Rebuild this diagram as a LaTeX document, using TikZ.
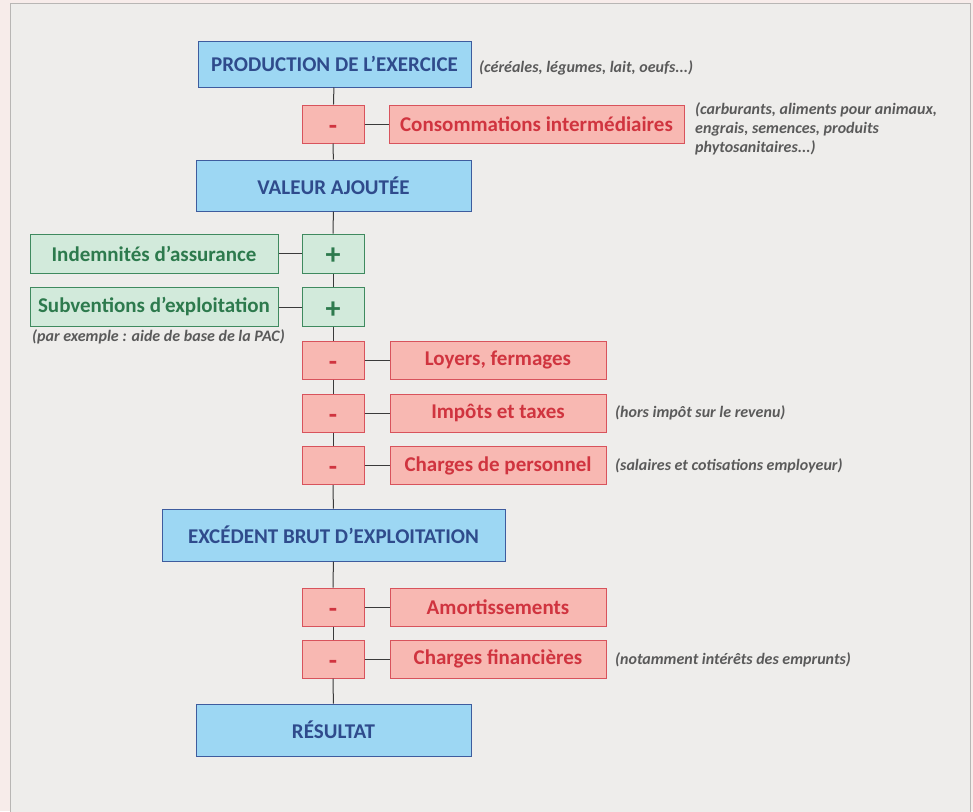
\documentclass[tikz,border=0pt]{standalone}
\usepackage{fontspec}
\setmainfont{Carlito}
\definecolor{fondPage}{HTML}{F7ECEA}
\definecolor{fondCadre}{HTML}{EEEDEB}
\definecolor{traitCadre}{HTML}{B8B6B4}
\definecolor{bleuFond}{HTML}{9DD7F3}
\definecolor{bleuTrait}{HTML}{3E5C9E}
\definecolor{bleuTexte}{HTML}{2F4B8C}
\definecolor{rougeFond}{HTML}{F8B8B2}
\definecolor{rougeTrait}{HTML}{D8535C}
\definecolor{rougeTexte}{HTML}{D0343F}
\definecolor{vertFond}{HTML}{D2EADB}
\definecolor{vertTrait}{HTML}{3F8A5F}
\definecolor{vertTexte}{HTML}{2D7A4D}
\definecolor{grisNote}{HTML}{5A5A5A}
\definecolor{lien}{HTML}{3A3A3A}
\tikzset{
  total/.style={draw=bleuTrait, fill=bleuFond, line width=1pt, text=bleuTexte,
    font=\bfseries\fontsize{21}{24}\selectfont, inner sep=0pt},
  charge/.style={draw=rougeTrait, fill=rougeFond, line width=1pt, text=rougeTexte,
    font=\bfseries\fontsize{21}{24}\selectfont, inner sep=0pt, minimum height=38pt},
  produit/.style={draw=vertTrait, fill=vertFond, line width=1pt, text=vertTexte,
    font=\bfseries\fontsize{21}{24}\selectfont, inner sep=0pt, minimum width=248pt, minimum height=39pt},
  moins/.style={charge, minimum width=62pt, font=\bfseries\fontsize{27}{28}\selectfont,
    text height=20pt, text depth=0pt},
  plus/.style={produit, minimum width=62pt, font=\bfseries\fontsize{30}{32}\selectfont,
    text height=22pt, text depth=0pt},
  note/.style={anchor=west, inner sep=0pt, text=grisNote, align=left,
    font=\bfseries\itshape\fontsize{16}{19}\selectfont},
  lien/.style={draw=lien, line width=1pt}
}
\begin{document}
\begin{tikzpicture}[x=1pt, y=-1pt]
  \useasboundingbox (0,0) rectangle (973,811);
  \fill [fondPage] (0,0) rectangle (973,811);
  \filldraw [fill=fondCadre, draw=traitCadre, line width=1pt] (10,3.5) rectangle (970,820);

  % colonne centrale
  \node [total, minimum width=273pt, minimum height=46pt] (prod) at (334.5,64) {PRODUCTION DE L’EXERCICE};
  \node [moins] (m1) at (333,124) {-};
  \node [total, minimum width=275pt, minimum height=51pt] (va) at (333.5,185.5) {VALEUR AJOUTÉE};
  \node [plus] (p1) at (333,253.5) {+};
  \node [plus] (p2) at (333,307) {+};
  \node [moins] (m2) at (333,360) {-};
  \node [moins] (m3) at (333,413) {-};
  \node [moins] (m4) at (333,465.5) {-};
  \node [total, minimum width=343pt, minimum height=52pt] (ebe) at (333.5,535) {EXCÉDENT BRUT D’EXPLOITATION};
  \node [moins] (m5) at (333,607) {-};
  \node [moins] (m6) at (333,659) {-};
  \node [total, minimum width=275pt, minimum height=52pt] (res) at (333.5,730) {RÉSULTAT};

  % postes
  \node [charge, minimum width=295pt] (conso) at (536.5,124) {Consommations intermédiaires};
  \node [produit] (indem) at (154,253.5) {Indemnités d’assurance};
  \node [produit] (subv) at (154,307) {Subventions d’exploitation};
  \node [charge, minimum width=216pt] (loyer) at (498,360) {Loyers, fermages};
  \node [charge, minimum width=216pt] (impot) at (498,413) {Impôts et taxes};
  \node [charge, minimum width=216pt] (perso) at (498,465.5) {Charges de personnel};
  \node [charge, minimum width=216pt] (amort) at (498,607) {Amortissements};
  \node [charge, minimum width=216pt] (fin) at (498,659) {Charges financières};

  % liens
  \draw [lien] (prod) -- (m1);
  \draw [lien] (m1) -- (va);
  \draw [lien] (va) -- (p1);
  \draw [lien] (p1) -- (p2);
  \draw [lien] (p2) -- (m2);
  \draw [lien] (m2) -- (m3);
  \draw [lien] (m3) -- (m4);
  \draw [lien] (m4) -- (ebe);
  \draw [lien] (ebe) -- (m5);
  \draw [lien] (m5) -- (m6);
  \draw [lien] (m6) -- (res);
  \draw [lien] (m1) -- (conso);
  \draw [lien] (indem) -- (p1);
  \draw [lien] (subv) -- (p2);
  \draw [lien] (m2) -- (loyer);
  \draw [lien] (m3) -- (impot);
  \draw [lien] (m4) -- (perso);
  \draw [lien] (m5) -- (amort);
  \draw [lien] (m6) -- (fin);

  % notes
  \node [note] (nprod) at (479,68) {(céréales, légumes, lait, oeufs...)};
  \node [note, anchor=north west] (nconso) at (695,102) {(carburants, aliments pour animaux,\\engrais, semences, produits\\phytosanitaires...)};
  \node [note] (nsubv) at (32,337) {(par exemple : aide de base de la PAC)};
  \node [note] (nimpot) at (615,413) {(hors impôt sur le revenu)};
  \node [note] (nperso) at (615,466) {(salaires et cotisations employeur)};
  \node [note] (nfin) at (615,660) {(notamment intérêts des emprunts)};
\end{tikzpicture}
\end{document}
